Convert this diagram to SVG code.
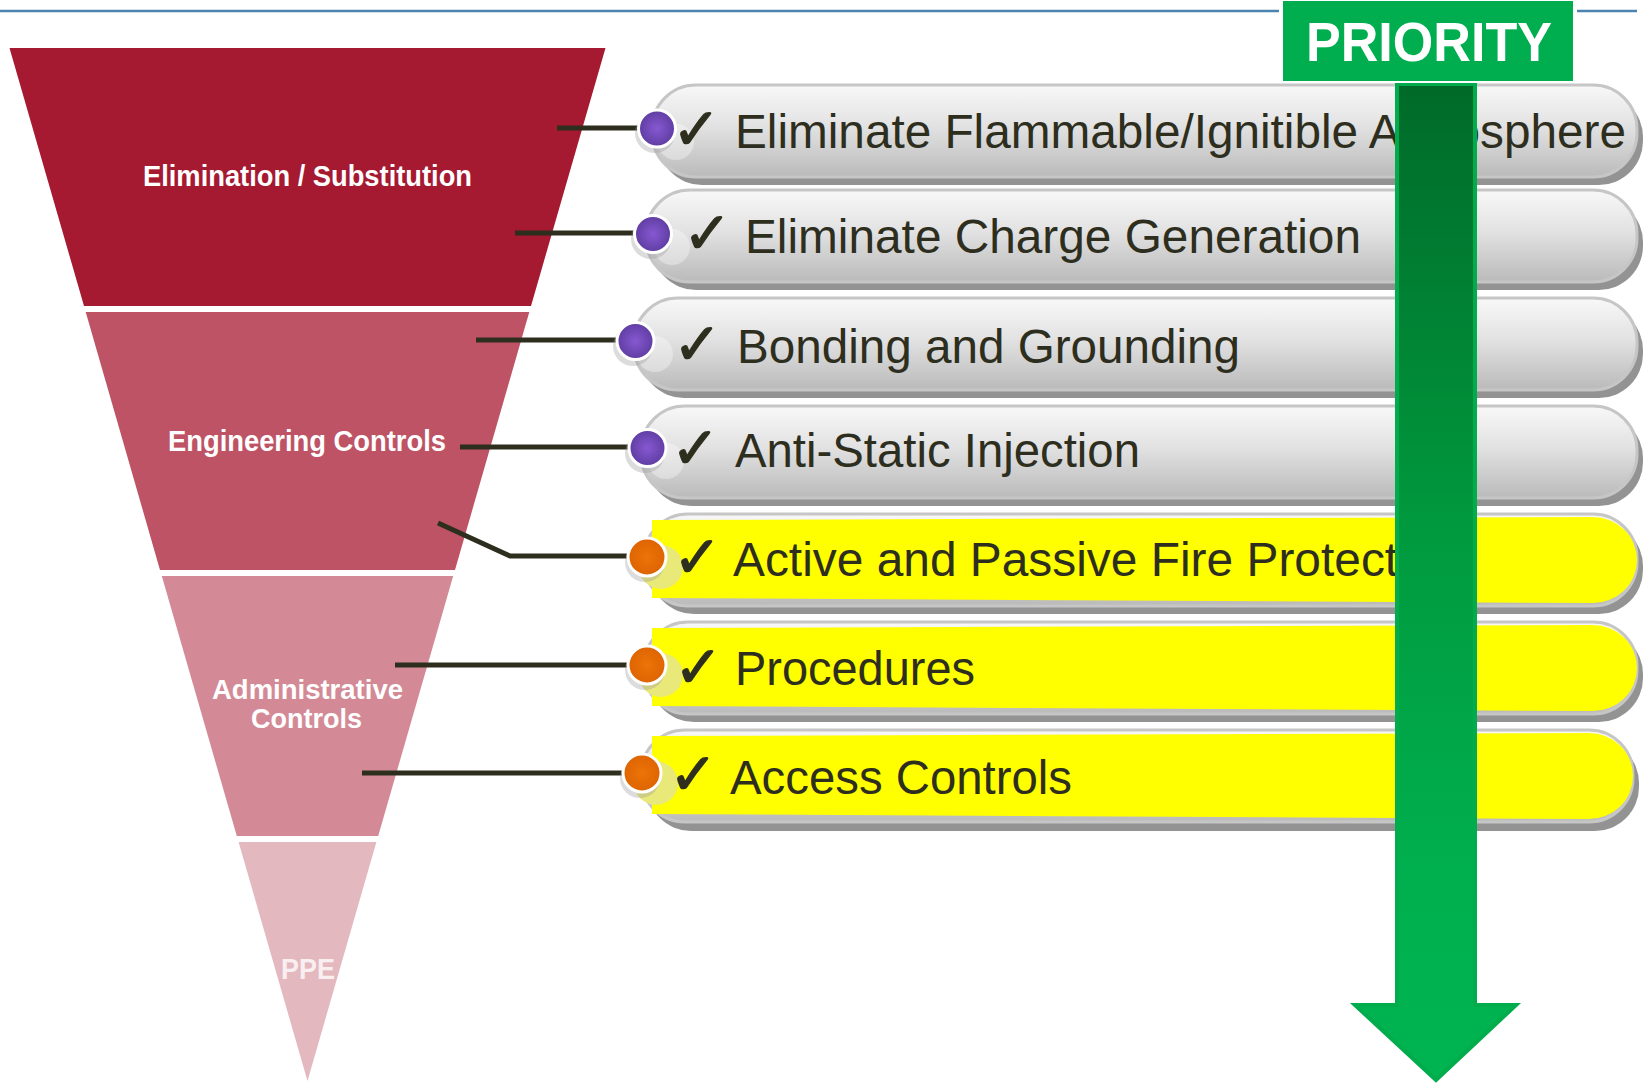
<svg xmlns="http://www.w3.org/2000/svg" width="1643" height="1083" viewBox="0 0 1643 1083">
  <defs>
    <linearGradient id="grayBody" x1="0" y1="0" x2="0" y2="1">
      <stop offset="0" stop-color="#f8f8f8"/>
      <stop offset="0.45" stop-color="#e2e2e2"/>
      <stop offset="1" stop-color="#bababa"/>
    </linearGradient>
    <radialGradient id="purpleDot" cx="0.5" cy="0.5" r="0.55">
      <stop offset="0" stop-color="#8758d2"/>
      <stop offset="1" stop-color="#5a3a9c"/>
    </radialGradient>
    <radialGradient id="orangeDot" cx="0.5" cy="0.5" r="0.55">
      <stop offset="0" stop-color="#ec7408"/>
      <stop offset="1" stop-color="#dc6200"/>
    </radialGradient>
    <linearGradient id="arrowFill" x1="0" y1="84" x2="0" y2="1083" gradientUnits="userSpaceOnUse">
      <stop offset="0" stop-color="#006a29"/>
      <stop offset="0.45" stop-color="#009a3e"/>
      <stop offset="0.8" stop-color="#00b04f"/>
      <stop offset="1" stop-color="#00b451"/>
    </linearGradient>
    <style>
      .band-label { font-family: "Liberation Sans", Arial, sans-serif; font-weight: bold; fill: #ffffff; }
      .shadow { fill: #939393; }
      .body { fill: url(#grayBody); stroke: #c6c6c6; stroke-width: 3; }
      .hilite { fill: #ffffff; opacity: 0.35; }
      .yellow { fill: #ffff00; }
      .yhalo { fill: #e9e97a; }
      .check { font-family: "DejaVu Sans", sans-serif; font-size: 58px; fill: #2e2e1e; stroke: #2e2e1e; stroke-width: 1.2; }
      .item { font-family: "Liberation Sans", Arial, sans-serif; font-size: 48px; fill: #2e2e1e; }
      .conn { fill: none; stroke: #2e2e1e; stroke-width: 5; }
      .dot { stroke: #ffffff; stroke-width: 3; }
      .dotshade { fill: #9a9a9a; opacity: 0.35; }
    </style>
  </defs>

  <rect width="1643" height="1083" fill="#ffffff"/>

  <!-- header rule -->
  <g id="header-rule" stroke="#4c84b0" stroke-width="2.5">
    <line x1="0" y1="11" x2="1279" y2="11"/>
    <line x1="1577" y1="11" x2="1637" y2="11"/>
  </g>

  <!-- control hierarchy funnel -->
  <g id="band-elimination">
    <polygon points="9.5,48 605.5,48 531,306 84,306" fill="#a51931"/>
    <text class="band-label" x="143" y="186" font-size="29" textLength="329" lengthAdjust="spacingAndGlyphs">Elimination / Substitution</text>
  </g>
  <g id="band-engineering">
    <polygon points="85.7,312 529.3,312 455,570 160,570" fill="#be5365"/>
    <text class="band-label" x="168" y="451" font-size="29" textLength="278" lengthAdjust="spacingAndGlyphs">Engineering Controls</text>
  </g>
  <g id="band-administrative">
    <polygon points="161.8,576 453.2,576 378.2,836 236.8,836" fill="#d38a96"/>
    <text class="band-label" x="212" y="698.5" font-size="28" textLength="191" lengthAdjust="spacingAndGlyphs">Administrative</text>
    <text class="band-label" x="251" y="727.5" font-size="28" textLength="111" lengthAdjust="spacingAndGlyphs">Controls</text>
  </g>
  <g id="band-ppe">
    <polygon points="238.6,842 376.4,842 307.5,1081" fill="#e3b8bf"/>
    <text class="band-label" x="281" y="979" font-size="30" textLength="54" lengthAdjust="spacingAndGlyphs" style="fill:#f9eef0">PPE</text>
  </g>

  <!-- measure pills -->
  <g id="item-flammable">
    <rect class="shadow" x="658" y="93" width="985" height="92" rx="44"/>
    <rect class="body" x="652" y="85" width="985" height="92" rx="44"/>
    <circle class="hilite" cx="676" cy="142" r="18"/>
    <text class="check" x="672" y="149">✓</text>
    <text class="item" x="735" y="147.5" textLength="891" lengthAdjust="spacingAndGlyphs">Eliminate Flammable/Ignitible Atmosphere</text>
  </g>
  <g id="item-charge">
    <rect class="shadow" x="652" y="198" width="991" height="92" rx="44"/>
    <rect class="body" x="646" y="190" width="991" height="92" rx="44"/>
    <circle class="hilite" cx="672" cy="247" r="18"/>
    <text class="check" x="683" y="253">✓</text>
    <text class="item" x="745" y="253" textLength="616" lengthAdjust="spacingAndGlyphs">Eliminate Charge Generation</text>
  </g>
  <g id="item-bonding">
    <rect class="shadow" x="640" y="306" width="1003" height="92" rx="44"/>
    <rect class="body" x="634" y="298" width="1003" height="92" rx="44"/>
    <circle class="hilite" cx="655" cy="354" r="18"/>
    <text class="check" x="673" y="364">✓</text>
    <text class="item" x="737" y="363" textLength="503" lengthAdjust="spacingAndGlyphs">Bonding and Grounding</text>
  </g>
  <g id="item-antistatic">
    <rect class="shadow" x="647" y="414" width="996" height="92" rx="44"/>
    <rect class="body" x="641" y="406" width="996" height="92" rx="44"/>
    <circle class="hilite" cx="666" cy="461" r="18"/>
    <text class="check" x="671" y="468">✓</text>
    <text class="item" x="735" y="467" textLength="405" lengthAdjust="spacingAndGlyphs">Anti-Static Injection</text>
  </g>
  <g id="item-fire-protection">
    <rect class="shadow" x="650" y="522" width="993" height="92" rx="44"/>
    <rect class="body" x="644" y="514" width="993" height="92" rx="44"/>
    <path class="yellow" d="M652,520 L1593,517 A44,43 0 0 1 1593,603 L652,598 Z"/>
    <circle class="yhalo" cx="661" cy="567" r="22"/>
    <text class="check" x="673" y="577">✓</text>
    <text class="item" x="733" y="576" textLength="729" lengthAdjust="spacingAndGlyphs">Active and Passive Fire Protection</text>
  </g>
  <g id="item-procedures">
    <rect class="shadow" x="650" y="630" width="993" height="92" rx="44"/>
    <rect class="body" x="644" y="622" width="993" height="92" rx="44"/>
    <path class="yellow" d="M652,628 L1593,625 A44,43 0 0 1 1593,711 L652,706 Z"/>
    <circle class="yhalo" cx="661" cy="675" r="22"/>
    <text class="check" x="674" y="687">✓</text>
    <text class="item" x="735" y="685" textLength="240" lengthAdjust="spacingAndGlyphs">Procedures</text>
  </g>
  <g id="item-access">
    <rect class="shadow" x="647" y="739" width="992" height="92" rx="44"/>
    <rect class="body" x="641" y="730" width="992" height="92" rx="44"/>
    <path class="yellow" d="M652,736 L1589,733 A44,43 0 0 1 1589,819 L652,814 Z"/>
    <circle class="yhalo" cx="656" cy="783" r="22"/>
    <text class="check" x="669" y="794">✓</text>
    <text class="item" x="730" y="794" textLength="342" lengthAdjust="spacingAndGlyphs">Access Controls</text>
  </g>

  <!-- leader lines from funnel bands to measures -->
  <g id="connectors">
    <path class="conn" d="M557,128 H645"/>
    <path class="conn" d="M515,233 H640"/>
    <path class="conn" d="M476,340 H622"/>
    <path class="conn" d="M460,447 H634"/>
    <path class="conn" d="M438,523 L510,556 H634"/>
    <path class="conn" d="M395,665 H634"/>
    <path class="conn" d="M362,773 H629"/>

    <circle class="dotshade" cx="655" cy="133" r="20"/>
    <circle class="dot" cx="657" cy="128.5" r="18.5" fill="url(#purpleDot)"/>
    <circle class="dotshade" cx="651" cy="239" r="20"/>
    <circle class="dot" cx="653" cy="234" r="18.5" fill="url(#purpleDot)"/>
    <circle class="dotshade" cx="633" cy="346" r="20"/>
    <circle class="dot" cx="635.5" cy="341" r="18.5" fill="url(#purpleDot)"/>
    <circle class="dotshade" cx="645" cy="453" r="20"/>
    <circle class="dot" cx="647.5" cy="448" r="18.5" fill="url(#purpleDot)"/>
    <circle class="dotshade" cx="645" cy="562" r="20"/>
    <circle class="dot" cx="647" cy="557" r="19" fill="url(#orangeDot)"/>
    <circle class="dotshade" cx="645" cy="670" r="20"/>
    <circle class="dot" cx="647" cy="665" r="19" fill="url(#orangeDot)"/>
    <circle class="dotshade" cx="640" cy="778" r="20"/>
    <circle class="dot" cx="642" cy="773" r="19" fill="url(#orangeDot)"/>
  </g>

  <!-- priority arrow -->
  <g id="priority-arrow">
    <path d="M1397,84 H1475 V1005 H1516 L1436,1080 L1355,1005 H1397 Z" fill="url(#arrowFill)" stroke="#00ac4b" stroke-width="4" stroke-linejoin="miter"/>
  </g>
  <g id="priority-label">
    <rect x="1282" y="0" width="292" height="82" fill="#00ae50" stroke="#ffffff" stroke-width="2"/>
    <text x="1306" y="61" font-family="Liberation Sans, Arial, sans-serif" font-weight="bold" font-size="55" fill="#ffffff" textLength="246" lengthAdjust="spacingAndGlyphs">PRIORITY</text>
  </g>
</svg>
